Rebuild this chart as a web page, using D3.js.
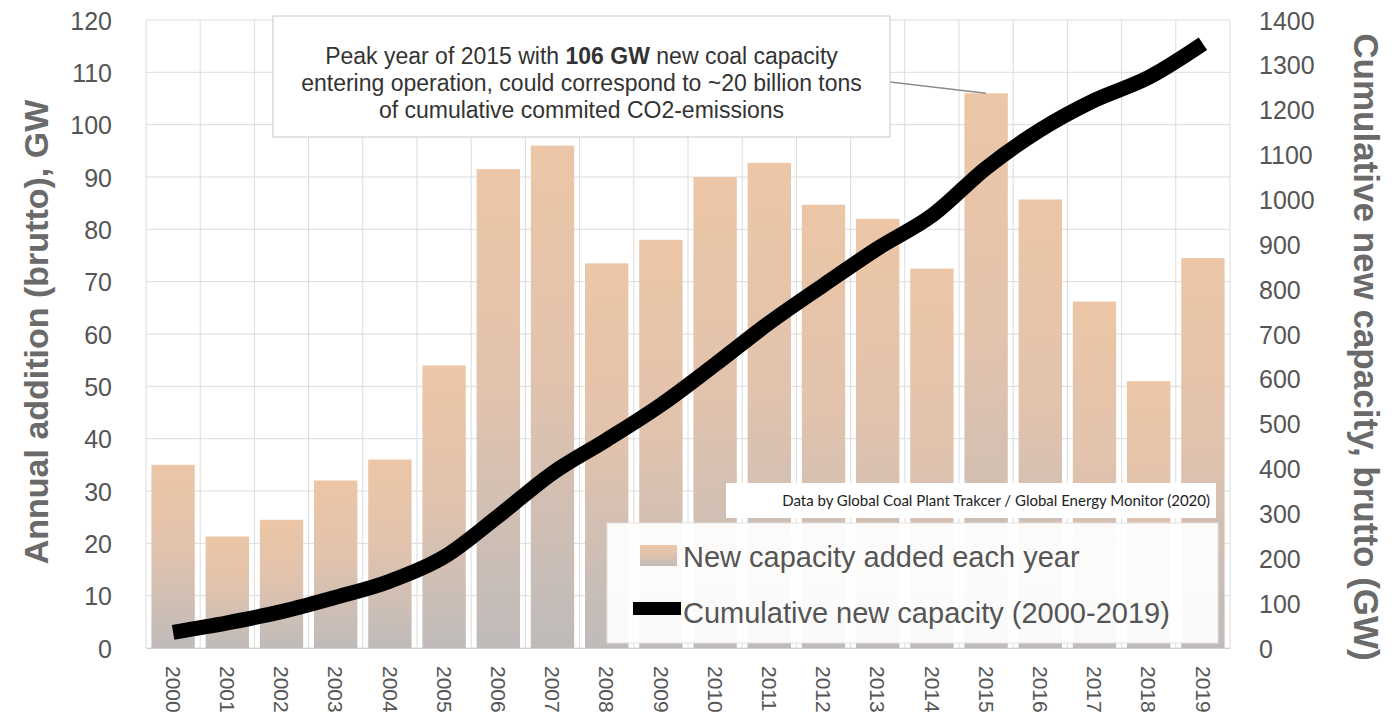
<!DOCTYPE html>
<html>
<head>
<meta charset="utf-8">
<script src="https://cdn.jsdelivr.net/npm/d3@7/dist/d3.min.js"></script>
<style>
  html, body { margin: 0; padding: 0; background: #fff; }
  svg { display: block; }
</style>
</head>
<body>
<svg id="chart" width="1396" height="728"></svg>
<script>
// Years on the x axis
const years = ["2000","2001","2002","2003","2004","2005","2006","2007","2008","2009",
               "2010","2011","2012","2013","2014","2015","2016","2017","2018","2019"];
// New coal capacity entering operation each year (GW)
const annualGW = [35, 21.3, 24.5, 32, 36, 54, 91.5, 96, 73.5, 78,
                  90, 92.7, 84.7, 82, 72.5, 106, 85.7, 66.2, 51, 74.5];
// Cumulative new capacity since 2000 (GW)
const cumulativeGW = [35, 56, 81, 113, 149, 203, 294, 390, 464, 542,
                      632, 725, 809, 891, 964, 1070, 1155, 1221, 1272, 1347];
// Axis ticks
const leftTicks = [0, 10, 20, 30, 40, 50, 60, 70, 80, 90, 100, 110, 120];
const rightTicks = [0, 100, 200, 300, 400, 500, 600, 700, 800, 900, 1000, 1100, 1200, 1300, 1400];

const svg = d3.select("#chart");
const FONT = "'Liberation Sans', Arial, Helvetica, sans-serif";

const plot = { left: 146, right: 1230, top: 20, bottom: 648 };

const x = d3.scaleBand().domain(years)
  .range([plot.left, plot.right]).paddingInner(0.2).paddingOuter(0.1);
const yL = d3.scaleLinear().domain([0, 120]).range([plot.bottom, plot.top]);
const yR = d3.scaleLinear().domain([0, 1400]).range([plot.bottom, plot.top]);

// Bar fill: peach at the top fading to grey at the base
const defs = svg.append("defs");
const grad = defs.append("linearGradient").attr("id", "barFill")
  .attr("x1", 0).attr("y1", 0).attr("x2", 0).attr("y2", 1);
grad.append("stop").attr("offset", "0%").attr("stop-color", "#ecc6a6");
grad.append("stop").attr("offset", "45%").attr("stop-color", "#e2c3ad");
grad.append("stop").attr("offset", "100%").attr("stop-color", "#bfbbba");

// Grid
const grid = svg.append("g").attr("stroke", "#dcdcdc").attr("stroke-width", 1);
grid.selectAll("line.h").data(leftTicks).join("line")
  .attr("x1", plot.left).attr("x2", plot.right)
  .attr("y1", d => yL(d)).attr("y2", d => yL(d));
const step = x.step();
const boundaries = d3.range(years.length + 1).map(i => plot.left + i * step);
grid.selectAll("line.v").data(boundaries).join("line")
  .attr("x1", d => d).attr("x2", d => d)
  .attr("y1", plot.top).attr("y2", plot.bottom);

// Bars
svg.append("g").selectAll("rect").data(years).join("rect")
  .attr("x", d => x(d))
  .attr("width", x.bandwidth())
  .attr("y", (d, i) => yL(annualGW[i]))
  .attr("height", (d, i) => plot.bottom - yL(annualGW[i]))
  .attr("fill", "url(#barFill)");

// Cumulative line
const line = d3.line()
  .x((d, i) => x(years[i]) + x.bandwidth() / 2)
  .y(d => yR(d))
  .curve(d3.curveMonotoneX);
svg.append("path").datum(cumulativeGW)
  .attr("d", line)
  .attr("fill", "none")
  .attr("stroke", "#000")
  .attr("stroke-width", 15);

// Left axis
const axL = svg.append("g").attr("transform", `translate(${plot.left - 34},0)`)
  .call(d3.axisLeft(yL).tickValues(leftTicks).tickSize(0).tickPadding(0));
axL.select(".domain").remove();
axL.selectAll("text").attr("font-family", FONT).attr("font-size", 25)
  .attr("fill", "#555").attr("dy", "0.36em");

// Right axis
const axR = svg.append("g").attr("transform", `translate(${plot.right + 29},0)`)
  .call(d3.axisRight(yR).tickValues(rightTicks).tickFormat(d3.format("d")).tickSize(0).tickPadding(0));
axR.select(".domain").remove();
axR.selectAll("text").attr("font-family", FONT).attr("font-size", 25)
  .attr("fill", "#555").attr("dy", "0.36em");

// Bottom axis: rotated year labels
const axB = svg.append("g").attr("transform", `translate(0,${plot.bottom})`)
  .call(d3.axisBottom(x).tickSize(0).tickPadding(0));
axB.select(".domain").attr("stroke", "#d0d0d0");
axB.selectAll("text")
  .attr("font-family", FONT).attr("font-size", 21).attr("fill", "#555")
  .attr("text-anchor", "start")
  .attr("transform", "translate(0,18) rotate(90)")
  .attr("x", 0).attr("y", 0).attr("dy", "0.35em");

// Axis titles
svg.append("text")
  .attr("transform", `translate(48,332) rotate(-90)`)
  .attr("text-anchor", "middle")
  .attr("font-family", FONT).attr("font-size", 34).attr("font-weight", "bold").attr("fill", "#6a6a6a")
  .text("Annual addition (brutto), GW");
svg.append("text")
  .attr("transform", `translate(1354,347) rotate(90)`)
  .attr("text-anchor", "middle")
  .attr("font-family", FONT).attr("font-size", 35).attr("font-weight", "bold").attr("fill", "#6a6a6a")
  .text("Cumulative new capacity, brutto (GW)");

// Annotation for the 2015 peak
const peakIdx = years.indexOf("2015");
const ann = { x: 273, y: 16, w: 617, h: 121 };
svg.append("line")
  .attr("x1", ann.x + ann.w).attr("y1", 82)
  .attr("x2", x("2015") + x.bandwidth() / 2).attr("y2", yL(annualGW[peakIdx]))
  .attr("stroke", "#8c8c8c").attr("stroke-width", 1.5);
svg.append("rect")
  .attr("x", ann.x).attr("y", ann.y).attr("width", ann.w).attr("height", ann.h)
  .attr("fill", "#fff").attr("stroke", "#c8c8c8").attr("stroke-width", 1);
const annText = svg.append("text")
  .attr("font-family", FONT).attr("font-size", 23).attr("fill", "#333")
  .attr("text-anchor", "middle");
const cx = ann.x + ann.w / 2;
const l1 = annText.append("tspan").attr("x", cx).attr("y", 64);
l1.append("tspan").text("Peak year of 2015 with ");
l1.append("tspan").attr("font-weight", "bold").text(annualGW[peakIdx] + " GW");
l1.append("tspan").text(" new coal capacity");
annText.append("tspan").attr("x", cx).attr("y", 91)
  .text("entering operation, could correspond to ~20 billion tons");
annText.append("tspan").attr("x", cx).attr("y", 118)
  .text("of cumulative commited CO2-emissions");

// Source note
svg.append("rect").attr("x", 726).attr("y", 483).attr("width", 490).attr("height", 35)
  .attr("fill", "#fff");
svg.append("text").attr("x", 1210).attr("y", 506).attr("text-anchor", "end")
  .attr("font-family", "Lato, 'Open Sans', sans-serif").attr("font-size", 15).attr("fill", "#222")
  .text("Data by Global Coal Plant Trakcer / Global Energy Monitor (2020)");

// Legend
svg.append("rect").attr("x", 607).attr("y", 523).attr("width", 611).attr("height", 120)
  .attr("fill", "#fff").attr("fill-opacity", 0.93)
  .attr("stroke", "#e2e2e2").attr("stroke-width", 1);
svg.append("rect").attr("x", 640).attr("y", 545).attr("width", 37).attr("height", 21)
  .attr("fill", "url(#barFill)");
svg.append("text").attr("x", 683).attr("y", 567)
  .attr("font-family", FONT).attr("font-size", 29).attr("fill", "#555")
  .text("New capacity added each year");
svg.append("rect").attr("x", 633).attr("y", 602).attr("width", 48).attr("height", 13)
  .attr("fill", "#000");
svg.append("text").attr("x", 683).attr("y", 623)
  .attr("font-family", FONT).attr("font-size", 29).attr("fill", "#555")
  .text("Cumulative new capacity (2000-2019)");
</script>
</body>
</html>
